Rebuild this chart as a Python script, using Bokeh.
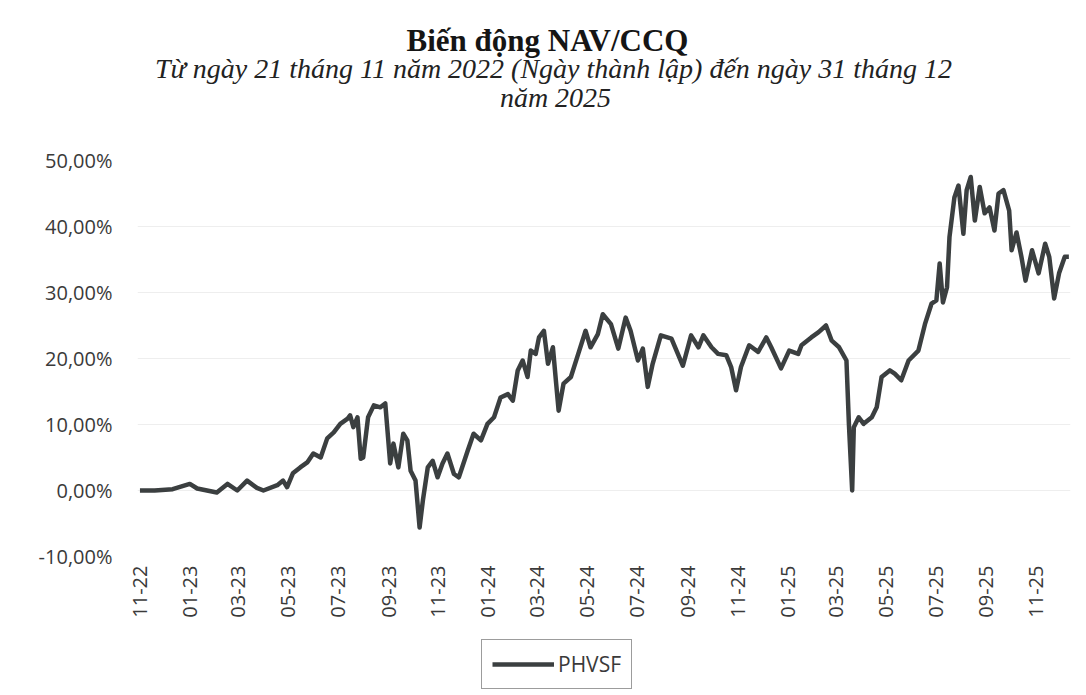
import math
from datetime import datetime
from bokeh.plotting import figure
from bokeh.layouts import column
from bokeh.models import (ColumnDataSource, FixedTicker, CustomJSTickFormatter, Label,
                          Legend, LegendItem, Range1d)
from bokeh.embed import file_html
from bokeh.resources import INLINE

# ---- data ----
dates = [
    "2022-11-21", "2022-12-09", "2022-12-31", "2023-01-21", "2023-01-30", "2023-02-11",
    "2023-02-23", "2023-03-08", "2023-03-20", "2023-04-01", "2023-04-13", "2023-04-21",
    "2023-05-08", "2023-05-15", "2023-05-20", "2023-05-27", "2023-06-05", "2023-06-14",
    "2023-06-21", "2023-06-30", "2023-07-08", "2023-07-16", "2023-07-24", "2023-08-02",
    "2023-08-05", "2023-08-09", "2023-08-14", "2023-08-18", "2023-08-21", "2023-08-27",
    "2023-09-03", "2023-09-11", "2023-09-17", "2023-09-23", "2023-09-27", "2023-10-03",
    "2023-10-09", "2023-10-14", "2023-10-18", "2023-10-24", "2023-10-29", "2023-11-02",
    "2023-11-08", "2023-11-14", "2023-11-20", "2023-11-26", "2023-12-02", "2023-12-10",
    "2023-12-16", "2023-12-27", "2024-01-03", "2024-01-12", "2024-01-20", "2024-01-28",
    "2024-02-05", "2024-02-14", "2024-02-20", "2024-02-26", "2024-03-03", "2024-03-09",
    "2024-03-13", "2024-03-19", "2024-03-23", "2024-03-29", "2024-04-03", "2024-04-09",
    "2024-04-13", "2024-04-16", "2024-04-22", "2024-05-01", "2024-05-10", "2024-05-19",
    "2024-05-25", "2024-06-03", "2024-06-09", "2024-06-19", "2024-06-28", "2024-07-07",
    "2024-07-13", "2024-07-22", "2024-07-28", "2024-08-03", "2024-08-09", "2024-08-19",
    "2024-09-01", "2024-09-15", "2024-09-25", "2024-10-04", "2024-10-10", "2024-10-20",
    "2024-10-28", "2024-11-07", "2024-11-13", "2024-11-19", "2024-11-25", "2024-12-05",
    "2024-12-16", "2024-12-26", "2025-01-01", "2025-01-13", "2025-01-23", "2025-02-03",
    "2025-02-07", "2025-02-19", "2025-02-28", "2025-03-09", "2025-03-16", "2025-03-25",
    "2025-04-03", "2025-04-06", "2025-04-10", "2025-04-12", "2025-04-18", "2025-04-24",
    "2025-05-04", "2025-05-10", "2025-05-16", "2025-05-26", "2025-06-01", "2025-06-09",
    "2025-06-18", "2025-06-30", "2025-07-08", "2025-07-16", "2025-07-22", "2025-07-26",
    "2025-07-30", "2025-08-04", "2025-08-07", "2025-08-13", "2025-08-18", "2025-08-24",
    "2025-08-28", "2025-09-02", "2025-09-07", "2025-09-13", "2025-09-19", "2025-09-25",
    "2025-10-01", "2025-10-06", "2025-10-12", "2025-10-19", "2025-10-22", "2025-10-28",
    "2025-11-03", "2025-11-08", "2025-11-16", "2025-11-24", "2025-12-02", "2025-12-07",
    "2025-12-13", "2025-12-19", "2025-12-26", "2025-12-31",
]
nav_change = [
    0.0, 0.0, 0.2, 1.0, 0.3, 0.0,
    -0.3, 1.0, 0.0, 1.5, 0.4, 0.0,
    0.8, 1.5, 0.5, 2.6, 3.5, 4.3,
    5.6, 5.0, 7.9, 8.8, 10.1, 10.9,
    11.4, 9.6, 11.1, 4.8, 5.0, 11.1,
    12.9, 12.6, 13.2, 4.1, 7.1, 3.5,
    8.6, 7.6, 3.0, 1.5, -5.6, -1.5,
    3.5, 4.5, 2.0, 4.1, 5.6, 2.5,
    2.0, 6.1, 8.6, 7.6, 10.1, 11.1,
    14.1, 14.6, 13.6, 18.2, 19.7, 17.2,
    21.2, 20.7, 23.2, 24.2, 19.2, 21.7,
    16.2, 12.1, 16.2, 17.2, 20.7, 24.2,
    21.7, 23.7, 26.7, 25.2, 21.5, 26.2,
    24.2, 19.7, 21.5, 15.7, 19.2, 23.5,
    23.0, 18.9, 23.5, 21.7, 23.5, 21.7,
    20.7, 20.5, 18.7, 15.2, 18.7, 22.0,
    21.0, 23.2, 21.7, 18.5, 21.2, 20.7,
    22.0, 23.2, 24.0, 25.0, 22.7, 21.7,
    19.7, 10.1, 0.0, 9.6, 11.1, 10.1,
    11.1, 12.6, 17.2, 18.2, 17.7, 16.7,
    19.7, 21.2, 25.2, 28.3, 28.8, 34.4,
    28.5, 30.8, 38.4, 44.4, 46.2, 38.9,
    45.5, 47.5, 40.9, 46.0, 42.0, 42.9,
    39.4, 45.0, 45.5, 42.4, 36.4, 39.1,
    35.4, 31.8, 36.4, 32.9, 37.4, 35.4,
    29.1, 32.9, 35.4, 35.4,
]
x_ticks = ["2022-11-21", "2023-01-21", "2023-03-21", "2023-05-21", "2023-07-21",
           "2023-09-21", "2023-11-21", "2024-01-21", "2024-03-21", "2024-05-21",
           "2024-07-21", "2024-09-21", "2024-11-21", "2025-01-21", "2025-03-21",
           "2025-05-21", "2025-07-21", "2025-09-21", "2025-11-21"]
y_ticks = [-10, 0, 10, 20, 30, 40, 50]
series_name = "PHVSF"
title_text = "Biến động NAV/CCQ"
subtitle_1 = "Từ ngày 21 tháng 11 năm 2022 (Ngày thành lập) đến ngày 31 tháng 12"
subtitle_2 = "năm 2025"


def ms(s):
    return datetime.strptime(s, "%Y-%m-%d").timestamp() * 1000.0


DAY = 86400000.0
W = 1080
LINE_COLOR = "#3b3f40"
TEXT_COLOR = "#3a3a3a"
sans = "Open Sans"
serif = "Liberation Serif"
BL, BR, BT, BB = 137, 10, 16, 76   # main chart borders (frames of the column are aligned)
FH = 396

dt = [datetime.strptime(d, "%Y-%m-%d") for d in dates]
src = ColumnDataSource(dict(x=dt, y=nav_change))

# ---------------- title block ----------------
TH = 144
pt = figure(width=W, height=TH, output_backend="svg", toolbar_location=None,
            x_axis_location=None, y_axis_location=None, min_border=0,
            x_range=Range1d(0, 1), y_range=Range1d(0, 1))
pt.grid.visible = False
pt.outline_line_color = None
for txt, cx, base, style, size, col in [
        (title_text, 547, 40, "bold", "31px", "#151515"),
        (subtitle_1, 553, 68, "italic", "28px", "#222222"),
        (subtitle_2, 555, 97, "italic", "28px", "#222222")]:
    pt.add_layout(Label(x=cx - BL, y=TH - base, x_units="screen", y_units="screen",
                        text=txt, text_font=serif, text_font_style=style,
                        text_font_size=size, text_color=col,
                        text_align="center", text_baseline="alphabetic"))

# ---------------- main chart ----------------
p = figure(width=W, height=BT + FH + BB, x_axis_type="datetime", output_backend="svg",
           toolbar_location=None, min_border_left=BL, min_border_right=BR,
           min_border_top=BT, min_border_bottom=BB)
p.x_range = Range1d(ms(dates[0]) - 3 * DAY, ms(dates[-1]) + 2 * DAY)
p.y_range = Range1d(y_ticks[0], y_ticks[-1])

r = p.line("x", "y", source=src, line_color=LINE_COLOR, line_width=4.5,
           line_join="round")

p.yaxis.ticker = FixedTicker(ticks=y_ticks)
p.yaxis.formatter = CustomJSTickFormatter(
    code="return tick.toFixed(2).replace('.', ',') + '%';")
p.xaxis.ticker = FixedTicker(ticks=[ms(t) for t in x_ticks])
p.xaxis.formatter = CustomJSTickFormatter(code="""
    const d = new Date(tick);
    const m = String(d.getUTCMonth() + 1).padStart(2, '0');
    const y = String(d.getUTCFullYear() % 100).padStart(2, '0');
    return m + '-' + y;""")
p.xaxis.major_label_orientation = math.pi / 2
for ax in (p.xaxis, p.yaxis):
    ax.axis_line_color = None
    ax.major_tick_line_color = None
    ax.minor_tick_line_color = None
    ax.major_tick_out = 0
    ax.major_tick_in = 0
    ax.minor_tick_out = 0
    ax.major_label_text_font = sans
    ax.major_label_text_font_size = "20px"
    ax.major_label_text_color = TEXT_COLOR
p.yaxis.major_label_standoff = 25
p.xaxis.major_label_standoff = 9

p.xgrid.grid_line_color = None
p.ygrid.grid_line_color = "#eeeeee"
p.ygrid.grid_line_width = 1
p.outline_line_color = None
p.background_fill_color = "white"
p.border_fill_color = "white"

# ---------------- legend block ----------------
LH = 60
pl = figure(width=W, height=LH, output_backend="svg", toolbar_location=None,
            x_axis_location=None, y_axis_location=None, min_border=0,
            x_range=Range1d(0, 1), y_range=Range1d(0, 1))
pl.grid.visible = False
pl.outline_line_color = None
# same series; its points fall outside this strip's ranges, only the legend swatch shows
lr = pl.line("x", "y", source=src, line_color=LINE_COLOR, line_width=4.5)
legend = Legend(items=[LegendItem(label=series_name, renderers=[lr])],
                location=(481 - BL, 3), orientation="horizontal",
                label_text_font=sans, label_text_font_size="21px",
                label_text_color=TEXT_COLOR, glyph_width=62, glyph_height=22,
                border_line_color="#3a3a3a", border_line_width=1.2,
                padding=10, margin=0, label_standoff=4,
                background_fill_color="white", background_fill_alpha=1.0)
pl.add_layout(legend, "center")

layout = column(pt, p, pl, spacing=0)
open("out.html", "w").write(file_html(layout, INLINE))
